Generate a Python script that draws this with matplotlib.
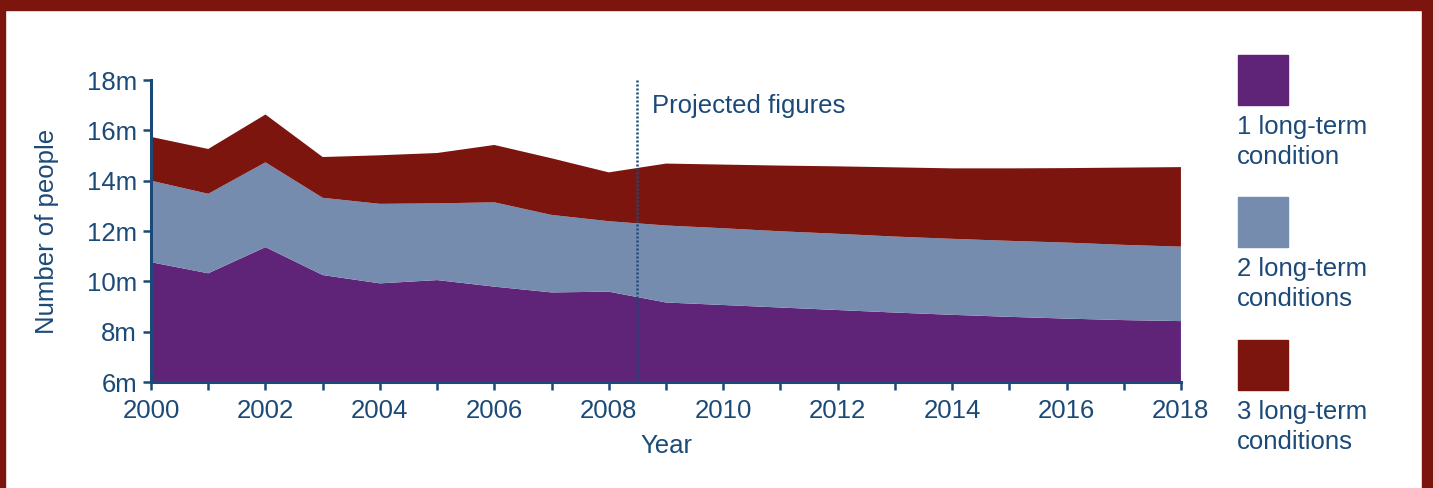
import matplotlib.pyplot as plt
from matplotlib.patches import Rectangle

plt.rcParams['font.family'] = ['Liberation Sans', 'DejaVu Sans']

years = list(range(2000, 2019))
# stacked tops (millions)
top_one = [10.76, 10.32, 11.36, 10.25, 9.92, 10.05, 9.79, 9.56, 9.59, 9.16,
           9.06, 8.96, 8.86, 8.76, 8.67, 8.59, 8.52, 8.46, 8.42]
top_two = [14.0, 13.48, 14.73, 13.32, 13.08, 13.10, 13.14, 12.64, 12.39, 12.22,
           12.11, 11.99, 11.89, 11.78, 11.69, 11.61, 11.54, 11.45, 11.38]
top_three = [15.74, 15.26, 16.63, 14.94, 15.01, 15.10, 15.42, 14.89, 14.33, 14.68,
             14.64, 14.60, 14.57, 14.53, 14.49, 14.49, 14.50, 14.52, 14.54]

one = top_one
two = [b - a for a, b in zip(top_one, top_two)]
three = [c - b for b, c in zip(top_two, top_three)]

labels = ['1 long-term\ncondition', '2 long-term\nconditions', '3 long-term\nconditions']
colors = ['#5f2378', '#758caf', '#7b150e']
ink = '#1c4a78'
fs = 18.5

fig = plt.figure(figsize=(14.33, 4.88), dpi=100)
ax = fig.add_axes([0.1054, 0.2172, 0.7187, 0.6188])

ax.stackplot(years, one, two, three, colors=colors, linewidth=0)
ax.set_xlim(2000, 2018)
ax.set_ylim(6, 18)

ax.axvline(2008.5, ymin=0, ymax=1, color=ink, linestyle=(0, (0.8, 0.8)), linewidth=1.8)
ax.text(2008.75, 16.95, 'Projected figures', color=ink, fontsize=fs, va='center')

for s in ['top', 'right']:
    ax.spines[s].set_visible(False)
for s in ['left', 'bottom']:
    ax.spines[s].set_color(ink)
    ax.spines[s].set_linewidth(2.2)

ax.set_xticks(years)
ax.set_xticklabels([str(y) if y % 2 == 0 else '' for y in years])
ax.set_yticks(range(6, 19, 2))
ax.set_yticklabels(['%dm' % v for v in range(6, 19, 2)])
ax.tick_params(colors=ink, labelsize=fs, width=1.8, length=6, direction='out')
ax.tick_params(axis='x', pad=6)
ax.tick_params(axis='y', pad=4)

ax.set_xlabel('Year', color=ink, fontsize=fs, labelpad=8)
ax.set_ylabel('Number of people', color=ink, fontsize=fs, labelpad=20)

# legend: squares with text underneath
sq_w = 50 / 1433
sq_h = 50 / 488
sq_tops = [55, 197, 340]
for lab, col, top in zip(labels, colors, sq_tops):
    y0 = 1 - (top + 50) / 488
    fig.patches.append(Rectangle((1238 / 1433, y0), sq_w, sq_h, color=col,
                                 transform=fig.transFigure, figure=fig))
    fig.text(1237 / 1433, y0 - 10 / 488, lab, color=ink, fontsize=fs,
             va='top', ha='left', linespacing=1.3)

# dark red frame
frame = '#7b150e'
fig.patches.append(Rectangle((0, 1 - 10 / 488), 1, 10 / 488, color=frame,
                             transform=fig.transFigure, figure=fig))
fig.patches.append(Rectangle((0, 0), 5 / 1433, 1, color=frame,
                             transform=fig.transFigure, figure=fig))
fig.patches.append(Rectangle((1 - 11 / 1433, 0), 11 / 1433, 1, color=frame,
                             transform=fig.transFigure, figure=fig))

fig.savefig('out.png', dpi=100)
